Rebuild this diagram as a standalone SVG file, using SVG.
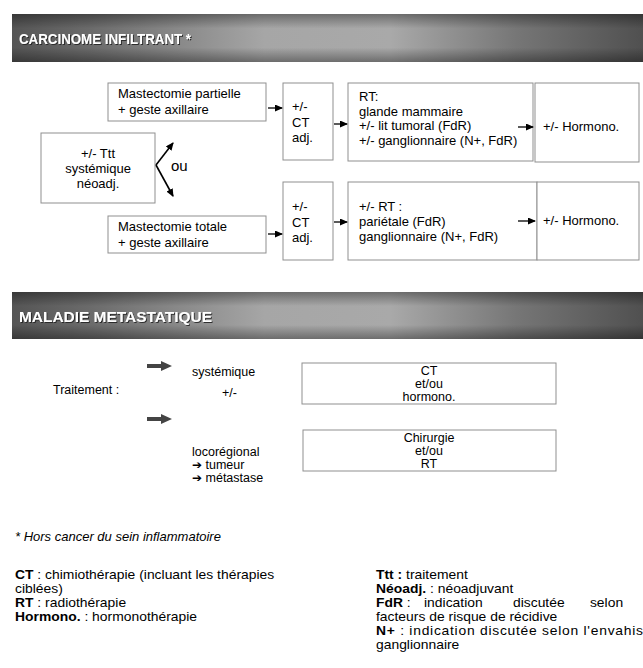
<svg xmlns="http://www.w3.org/2000/svg" width="643" height="668" viewBox="0 0 643 668">
<defs>
<linearGradient id="hx" x1="0" y1="0" x2="1" y2="0">
<stop offset="0" stop-color="#555"/>
<stop offset="0.12" stop-color="#6a6a6a"/>
<stop offset="0.4" stop-color="#a6a6a6"/>
<stop offset="0.6" stop-color="#a9a9a9"/>
<stop offset="0.8" stop-color="#767676"/>
<stop offset="1" stop-color="#505050"/>
</linearGradient>
<linearGradient id="hy" x1="0" y1="0" x2="0" y2="1">
<stop offset="0" stop-color="#000" stop-opacity="0.35"/>
<stop offset="0.3" stop-color="#000" stop-opacity="0"/>
<stop offset="0.7" stop-color="#000" stop-opacity="0"/>
<stop offset="1" stop-color="#000" stop-opacity="0.35"/>
</linearGradient>
<filter id="sh" x="-5%" y="-30%" width="110%" height="160%">
<feDropShadow dx="1" dy="1" stdDeviation="0.4" flood-color="#222" flood-opacity="0.9"/>
</filter>
<marker id="ah" markerWidth="8" markerHeight="7" refX="7" refY="3.5" orient="auto" markerUnits="userSpaceOnUse">
<path d="M0,0 L8,3.5 L0,7 z" fill="#000"/>
</marker>
<style>
text{font-family:"Liberation Sans",Arial,sans-serif;fill:#000}
.hd{font-size:15px;font-weight:bold;fill:#fff;filter:url(#sh)}
.box{fill:#fff;stroke:#8f8f8f;stroke-width:1}
.t{font-size:13px}
.m{font-size:12.5px}
.c{text-anchor:middle}
.n{font-size:12.4px}
.con{stroke:#000;stroke-width:1.3;fill:none;marker-end:url(#ah)}
.thick{fill:#444}
.wd{font-family:"DejaVu Sans",sans-serif;font-size:12px;font-weight:bold}
</style>
</defs>
<rect width="643" height="668" fill="#fff"/>

<g id="header1">
<rect x="12" y="14" width="631" height="48" fill="url(#hx)"/>
<rect x="12" y="14" width="631" height="48" fill="url(#hy)"/>
<text class="hd" x="19" y="44" textLength="172" lengthAdjust="spacingAndGlyphs">CARCINOME INFILTRANT *</text>
</g>

<g id="ttt">
<rect class="box" x="41" y="133" width="114" height="70"/>
<text class="t c" x="98" y="158">+/- Ttt</text>
<text class="t c" x="98" y="173">systémique</text>
<text class="t c" x="98" y="188">néoadj.</text>
</g>
<g id="ou"><text x="171" y="171" style="font-size:15px">ou</text></g>

<g id="mastPart">
<rect class="box" x="108" y="83" width="158" height="38"/>
<text class="t" x="118" y="98">Mastectomie partielle</text>
<text class="t" x="118" y="114">+ geste axillaire</text>
</g>
<g id="ct1">
<rect class="box" x="283" y="83" width="50" height="77"/>
<text class="t" x="292" y="111">+/-</text>
<text class="t" x="292" y="127">CT</text>
<text class="t" x="292" y="142">adj.</text>
</g>
<g id="rt1">
<rect class="box" x="348" y="83" width="185" height="78"/>
<text class="t" x="359" y="101">RT:</text>
<text class="t" x="359" y="115.5">glande mammaire</text>
<text class="t" x="359" y="130">+/- lit tumoral (FdR)</text>
<text class="t" x="359" y="144.5">+/- ganglionnaire (N+, FdR)</text>
</g>
<g id="horm1">
<rect class="box" x="535" y="83" width="104" height="79"/>
<text class="t" x="543" y="131">+/- Hormono.</text>
</g>

<g id="mastTot">
<rect class="box" x="108" y="216" width="158" height="37"/>
<text class="t" x="118" y="231">Mastectomie totale</text>
<text class="t" x="118" y="247">+ geste axillaire</text>
</g>
<g id="ct2">
<rect class="box" x="283" y="182" width="50" height="78"/>
<text class="t" x="292" y="211">+/-</text>
<text class="t" x="292" y="227">CT</text>
<text class="t" x="292" y="242">adj.</text>
</g>
<g id="rt2">
<rect class="box" x="348" y="182" width="189" height="78"/>
<text class="t" x="359" y="211">+/- RT :</text>
<text class="t" x="359" y="226">pariétale (FdR)</text>
<text class="t" x="359" y="241">ganglionnaire (N+, FdR)</text>
</g>
<g id="horm2">
<rect class="box" x="537" y="182" width="102" height="78"/>
<text class="t" x="543" y="225">+/- Hormono.</text>
</g>

<g id="header2">
<rect x="12" y="292" width="631" height="47" fill="url(#hx)"/>
<rect x="12" y="292" width="631" height="47" fill="url(#hy)"/>
<text class="hd" x="19" y="322" textLength="193" lengthAdjust="spacingAndGlyphs">MALADIE METASTATIQUE</text>
</g>

<g id="traitement"><text class="m" x="53" y="394">Traitement :</text></g>
<g id="systemique"><text class="m" x="192" y="376">systémique</text></g>
<g id="plusminus"><text class="m" x="222" y="397">+/-</text></g>
<g id="locoreg">
<text class="m" x="192" y="456">locorégional</text>
<text class="m" x="192" y="469"><tspan class="wd">➔</tspan> tumeur</text>
<text class="m" x="192" y="482"><tspan class="wd">➔</tspan> métastase</text>
</g>
<g id="ctBox">
<rect class="box" x="302" y="363" width="254" height="41"/>
<text class="m c" x="429" y="375">CT</text>
<text class="m c" x="429" y="388">et/ou</text>
<text class="m c" x="429" y="401">hormono.</text>
</g>
<g id="chirBox">
<rect class="box" x="303" y="430" width="253" height="41"/>
<text class="m c" x="429" y="442">Chirurgie</text>
<text class="m c" x="429" y="455">et/ou</text>
<text class="m c" x="429" y="468">RT</text>
</g>

<g id="connectors">
<line class="con" x1="268" y1="108" x2="282" y2="108"/>
<line class="con" x1="334" y1="124" x2="347" y2="124"/>
<line class="con" x1="518" y1="127" x2="533" y2="127"/>
<line class="con" x1="268" y1="234" x2="282" y2="234"/>
<line class="con" x1="334" y1="222" x2="347" y2="222"/>
<line class="con" x1="518" y1="221" x2="535" y2="221"/>
<line class="con" x1="156" y1="165" x2="173" y2="143" style="stroke-width:1.6"/>
<line class="con" x1="156" y1="165" x2="173" y2="196" style="stroke-width:1.6"/>
<path class="thick" d="M147,364 H161 V361 L172,366 L161,371 V368 H147 Z"/>
<path class="thick" d="M147,417 H161 V414 L172,419 L161,424 V421 H147 Z"/>
</g>

<g id="notes">
<text x="15" y="541" style="font-size:13px;font-style:italic">* Hors cancer du sein inflammatoire</text>
<g transform="translate(15,0) scale(1.12,1)">
<text class="n" x="0" y="579"><tspan font-weight="bold">CT</tspan> : chimiothérapie (incluant les thérapies</text>
<text class="n" x="0" y="593">ciblées)</text>
<text class="n" x="0" y="607"><tspan font-weight="bold">RT</tspan> : radiothérapie</text>
<text class="n" x="0" y="621"><tspan font-weight="bold">Hormono.</tspan> : hormonothérapie</text>
</g>
<g transform="translate(376,0) scale(1.12,1)">
<text class="n" x="0" y="579"><tspan font-weight="bold">Ttt :</tspan> traitement</text>
<text class="n" x="0" y="593"><tspan font-weight="bold">Néoadj.</tspan> : néoadjuvant</text>
<text class="n" x="0" y="607"><tspan font-weight="bold">FdR</tspan> :</text>
<text class="n" x="42.9" y="607">indication</text>
<text class="n" x="122.3" y="607">discutée</text>
<text class="n" x="191" y="607">selon</text>
<text class="n" x="0" y="621">facteurs de risque de récidive</text>
<text class="n" x="0" y="635" textLength="238.4" lengthAdjust="spacing"><tspan font-weight="bold">N+</tspan> : indication discutée selon l'envahis</text>
<text class="n" x="0" y="649">ganglionnaire</text>
</g>
</g>
</svg>
